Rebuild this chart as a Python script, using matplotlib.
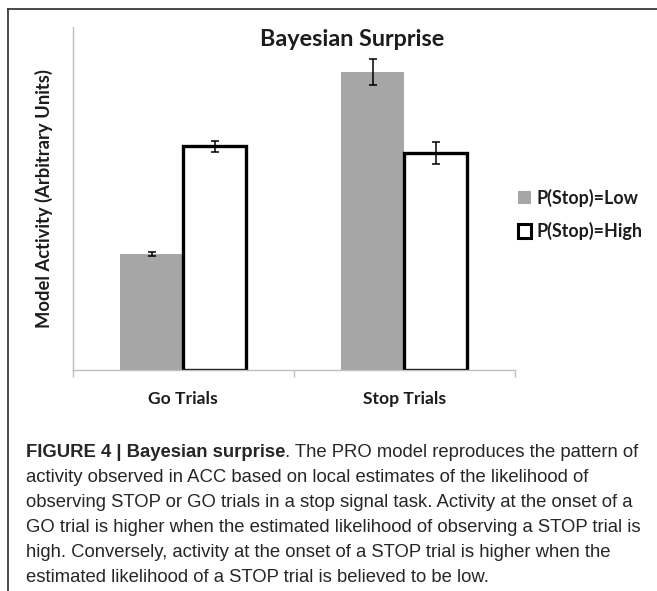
import matplotlib
matplotlib.use("Agg")
import matplotlib.pyplot as plt
from matplotlib.patches import Patch
from matplotlib.lines import Line2D
import numpy as np

categories = ["Go Trials", "Stop Trials"]
series_names = ["P(Stop)=Low", "P(Stop)=High"]
low_values = [0.338, 0.869]
high_values = [0.653, 0.633]
low_errors = [0.006, 0.038]
high_errors = [0.016, 0.031]

title = "Bayesian Surprise"
ylabel = "Model Activity (Arbitrary Units)"
caption_bold = "FIGURE 4 | Bayesian surprise"
caption_lines = [
    ". The PRO model reproduces the pattern of",
    "activity observed in ACC based on local estimates of the likelihood of",
    "observing STOP or GO trials in a stop signal task. Activity at the onset of a",
    "GO trial is higher when the estimated likelihood of observing a STOP trial is",
    "high. Conversely, activity at the onset of a STOP trial is higher when the",
    "estimated likelihood of a STOP trial is believed to be low.",
]

W, H = 657, 591
fig = plt.figure(figsize=(W / 100, H / 100), dpi=100)

CH = ["Lato", "DejaVu Sans"]
CAP = ["Liberation Sans Narrow", "Liberation Sans", "DejaVu Sans"]
txt_col = "#1c1c1c"
gray = "#a6a6a6"
axis_col = "#bfbfbf"

ax = fig.add_axes([72.5 / W, 1 - 370 / H, 442.5 / W, 343 / H])
x = np.arange(len(categories))
bw = 0.285
ax.bar(x - 0.1425, low_values, bw, color=gray, edgecolor="none", zorder=2)
ax.bar(x + 0.1425, high_values, bw, color="white", edgecolor="black", linewidth=2.4, zorder=2)
ax.errorbar(x - 0.1425, low_values, yerr=low_errors, fmt="none", ecolor="black",
            elinewidth=1.1, capsize=2.8, capthick=1.1, zorder=3)
ax.errorbar(x + 0.1425, high_values, yerr=high_errors, fmt="none", ecolor="black",
            elinewidth=1.1, capsize=2.8, capthick=1.1, zorder=3)

ax.set_xlim(-0.5, len(categories) - 0.5)
ax.set_ylim(0, 1)
for s in ["top", "right"]:
    ax.spines[s].set_visible(False)
for s in ["left", "bottom"]:
    ax.spines[s].set_color(axis_col)
    ax.spines[s].set_linewidth(1.0)
ax.set_yticks([])
ax.set_xticks(x)
ax.set_xticklabels(categories, fontfamily=CH, fontweight="bold", fontsize=12.6, color=txt_col)
ax.tick_params(axis="x", which="major", length=0, pad=15)
ax.set_xticks(np.arange(-0.5, len(categories)), minor=True)
ax.tick_params(axis="x", which="minor", length=5, color=axis_col, width=1.0)
ax.patch.set_alpha(0)

fig.text(352 / W, 1 - 40 / H, title, ha="center", va="center", fontfamily=CH,
         fontweight="bold", fontsize=16.8, color=txt_col)
fig.text(44 / W, 1 - 199 / H, ylabel, ha="center", va="center", rotation=90,
         fontfamily=CH, fontweight="bold", fontsize=13.2, color=txt_col)

handles = [Patch(facecolor=gray, edgecolor="none"),
           Patch(facecolor="white", edgecolor="black", linewidth=2.2)]
fig.legend(handles, series_names, loc="center left",
           bbox_to_anchor=(518 / W, 1 - 214.5 / H), frameon=False,
           prop={"family": CH, "weight": "bold", "size": 12.9},
           handlelength=0.72, handleheight=0.75, handletextpad=0.3,
           labelspacing=0.85, borderpad=0, borderaxespad=0)
for t in fig.legends[0].get_texts():
    t.set_color(txt_col)

# frame lines
fig.add_artist(Line2D([8 / W, 8 / W], [0, 1 - 9 / H], transform=fig.transFigure,
                      color="#3a3a3a", linewidth=1.3))
fig.add_artist(Line2D([8 / W, 1], [1 - 9 / H, 1 - 9 / H], transform=fig.transFigure,
                      color="#3a3a3a", linewidth=1.3))

# caption, fitted to measured line width
renderer = fig.canvas.get_renderer()
probe = fig.text(0, 0, caption_lines[3], fontfamily=CAP, fontsize=10)
wpx = probe.get_window_extent(renderer).width
probe.remove()
cap_size = 10 * 620 / wpx
cap_col = "#262626"
left = 26 / W
baselines = [457, 482, 507, 532, 557, 582]
tb = fig.text(left, 1 - baselines[0] / H, caption_bold, fontfamily=CAP, fontsize=cap_size,
              fontweight="bold", va="baseline", ha="left", color=cap_col)
bw_px = tb.get_window_extent(renderer).width
fig.text(left + bw_px / W, 1 - baselines[0] / H, caption_lines[0], fontfamily=CAP,
         fontsize=cap_size, va="baseline", ha="left", color=cap_col)
for line, b in zip(caption_lines[1:], baselines[1:]):
    fig.text(left, 1 - b / H, line, fontfamily=CAP, fontsize=cap_size,
             va="baseline", ha="left", color=cap_col)

fig.savefig("out.png", dpi=100, facecolor="white")
